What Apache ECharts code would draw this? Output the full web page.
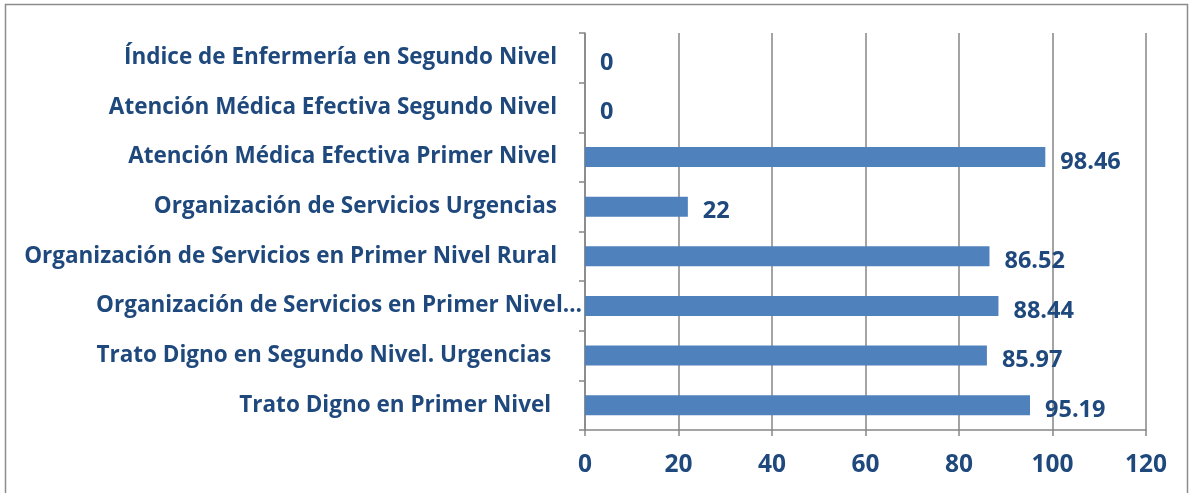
<!DOCTYPE html>
<html><head><meta charset="utf-8">
<script src="https://cdn.jsdelivr.net/npm/echarts@6/dist/echarts.min.js"></script>
<style>html,body{margin:0;padding:0;background:#fff}#c{width:1190px;height:493px}</style>
</head><body><div id="c"></div>
<script>
const categories = [
  "Trato Digno en Primer Nivel ",
  "Trato Digno en Segundo Nivel. Urgencias ",
  "Organización de Servicios en Primer Nivel…",
  "Organización de Servicios en Primer Nivel Rural",
  "Organización de Servicios Urgencias",
  "Atención Médica Efectiva Primer Nivel",
  "Atención Médica Efectiva Segundo Nivel",
  "Índice de Enfermería en Segundo Nivel"
];
const values = [95.19, 85.97, 88.44, 86.52, 22, 98.46, 0, 0];
const xTicks = [0, 20, 40, 60, 80, 100, 120];

const chart = echarts.init(document.getElementById('c'));
const txt = '#1F497D';
const font = '"Open Sans", sans-serif';
chart.setOption({
  animation: false,
  graphic: [{type:'rect', shape:{x:5.5,y:4.5,width:1182,height:500}, style:{fill:'none', stroke:'#8c8c8c', lineWidth:1.5}}],
  grid: {left: 585, right: 44, top: 33, bottom: 63, containLabel: false},
  xAxis: {
    type: 'value', min: xTicks[0], max: xTicks[xTicks.length-1], interval: 20,
    axisLine: {show: true, lineStyle: {color: '#868686', width: 1.5}},
    axisTick: {show: true, length: 6, lineStyle: {color: '#868686', width: 1.5}},
    splitLine: {show: true, lineStyle: {color: '#868686', width: 1.5}},
    axisLabel: {color: txt, fontWeight: 'bold', fontSize: 24.5, fontFamily: font, margin: 23}
  },
  yAxis: {
    type: 'category', data: categories,
    axisLine: {show: true, lineStyle: {color: '#868686', width: 1.5}},
    axisTick: {show: true, length: 6, inside: false, lineStyle: {color: '#868686', width: 1.5}},
    axisLabel: {color: txt, fontWeight: 'bold', fontSize: 22.5, fontFamily: font, margin: 28,
      formatter: function (v) { return v.endsWith('…') ? '{e|' + v + '}' : v; },
      rich: {e: {color: txt, fontWeight: 'bold', fontSize: 22.5, fontFamily: font, padding: [0, -25, 0, 0]}}
    }
  },
  series: [{
    type: 'bar', data: values, barWidth: 20,
    itemStyle: {color: '#4F81BD'},
    label: {show: true, position: 'right', distance: 15, offset: [0, 5],
      color: txt, fontWeight: 'bold', fontSize: 23.5, fontFamily: font}
  }]
});
</script></body></html>
